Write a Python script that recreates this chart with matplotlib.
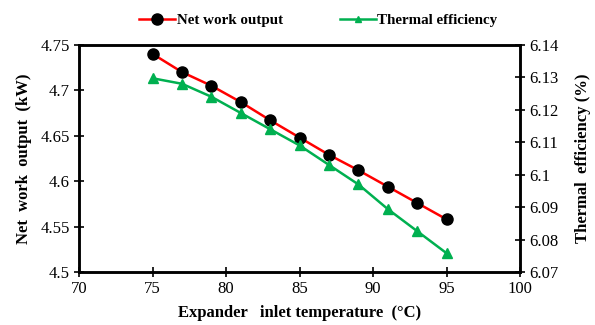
import matplotlib
matplotlib.use("Agg")
import matplotlib.pyplot as plt

# data
temperature = [75, 77, 79, 81, 83, 85, 87, 89, 91, 93, 95]
net_work = [4.740, 4.720, 4.705, 4.687, 4.667, 4.648, 4.629, 4.612, 4.594, 4.576, 4.558]
thermal_eff = [6.1297, 6.128, 6.124, 6.119, 6.114, 6.109, 6.103, 6.097, 6.0894, 6.0826, 6.0758]

left_ticks = [4.5, 4.55, 4.6, 4.65, 4.7, 4.75]
left_labels = ["4.5", "4.55", "4.6", "4.65", "4.7", "4.75"]
right_ticks = [6.07, 6.08, 6.09, 6.1, 6.11, 6.12, 6.13, 6.14]
right_labels = ["6.07", "6.08", "6.09", "6.1", "6.11", "6.12", "6.13", "6.14"]
x_ticks = [70, 75, 80, 85, 90, 95, 100]

plt.rcParams['font.family'] = ['Liberation Serif', 'DejaVu Serif']

fig = plt.figure(figsize=(5.95, 3.25), dpi=100)
ax = fig.add_axes([0.133, 0.163, 0.741, 0.699])
ax2 = ax.twinx()

l1, = ax.plot(temperature, net_work, color='#ff0000', lw=1.8, marker='o',
              markersize=8, markerfacecolor='black', markeredgecolor='black',
              label='Net work output')
l2, = ax2.plot(temperature, thermal_eff, color='#00b050', lw=1.8, marker='^',
               markersize=7, markerfacecolor='#00b050', markeredgecolor='#00b050',
               label='Thermal efficiency')

ax.set_xlim(70, 100)
ax.set_ylim(4.5, 4.75)
ax2.set_ylim(6.07, 6.14)
ax.set_xticks(x_ticks)
ax.set_yticks(left_ticks)
ax.set_yticklabels(left_labels)
ax2.set_yticks(right_ticks)
ax2.set_yticklabels(right_labels)

for a in (ax, ax2):
    for s in a.spines.values():
        s.set_linewidth(1.8)
        s.set_color('black')
ax.tick_params(axis='both', direction='inout', length=7, width=1.2, labelsize=12, pad=3)
ax2.tick_params(axis='y', direction='inout', length=7, width=1.2, labelsize=12, pad=3)

ax.set_xlabel("Expander   inlet temperature  (°C)", fontsize=12, fontweight='bold', labelpad=6)
ax.set_ylabel("Net  work  output  (kW)", fontsize=12, fontweight='bold', labelpad=6)
ax2.set_ylabel("Thermal  efficiency (%)", fontsize=12, fontweight='bold', labelpad=12)

leg = fig.legend(handles=[l1, l2], loc='upper center', bbox_to_anchor=(0.535, 1.0), ncol=2,
                 frameon=False, prop={'weight': 'bold', 'size': 10.8},
                 handlelength=2.4, handletextpad=0.1, columnspacing=3.8)
leg.legend_handles[1].set_markersize(4)

fig.savefig("out.png", dpi=100)
